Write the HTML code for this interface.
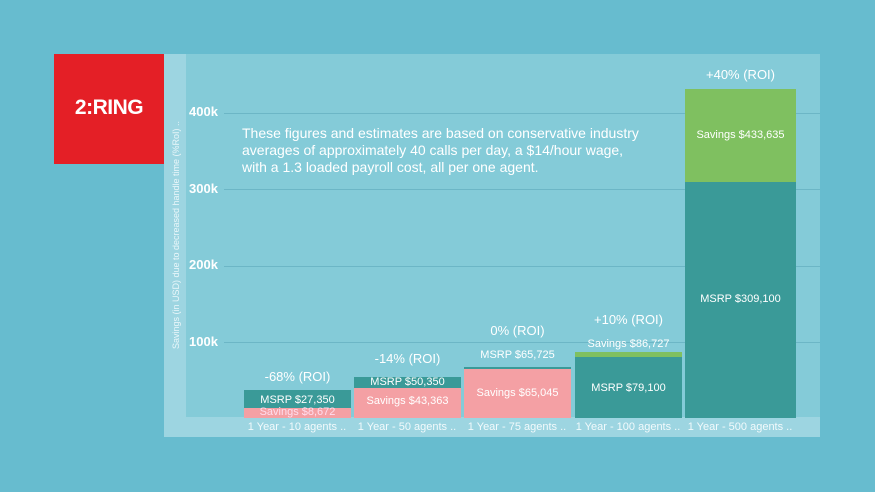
<!DOCTYPE html>
<html><head><style>
*{margin:0;padding:0;box-sizing:border-box}
body{width:875px;height:492px;background:#67bccf;position:relative;overflow:hidden;font-family:"Liberation Sans",sans-serif}
.a{position:absolute}
.g{position:absolute;left:224px;width:596px;height:1px;background:#6cb6c6}
.yl{position:absolute;left:189px;font-size:13px;color:#fff;font-weight:bold}
.t{position:absolute;color:#fff;text-align:center;white-space:nowrap}
.teal{background:#3a9a98}.pink{background:#f4a0a4}.green{background:#7fc060}
.xl{position:absolute;top:421px;font-size:11px;color:#f2fafc;text-align:center;width:110px}
</style></head><body>
<div class="a" style="left:54px;top:54px;width:110px;height:110px;background:#e41f26"></div>
<div class="t" style="left:54px;top:96px;width:110px;font-size:21px;font-weight:bold;letter-spacing:-0.5px">2:RING</div>
<div class="a" style="left:164px;top:54px;width:656px;height:383px;background:#84cbd8"></div>
<div class="a" style="left:164px;top:54px;width:22px;height:383px;background:#9dd5e1"></div>
<div class="a" style="left:186px;top:417px;width:634px;height:20px;background:#9dd5e1"></div>
<div class="t" style="left:176px;top:235px;font-size:9px;color:#eaf7fa;transform:translate(-50%,-50%) rotate(-90deg)">Savings (in USD) due to decreased handle time (%RoI) ..</div>
<div class="g" style="top:113px"></div><div class="g" style="top:189px"></div><div class="g" style="top:266px"></div><div class="g" style="top:342px"></div>
<div class="yl" style="top:104px">400k</div><div class="yl" style="top:181px">300k</div><div class="yl" style="top:257px">200k</div><div class="yl" style="top:334px">100k</div>
<div class="a" style="left:242px;top:125px;font-size:14px;line-height:17px;color:#fff">These figures and estimates are based on conservative industry<br>averages of approximately 40 calls per day, a $14/hour wage,<br>with a 1.3 loaded payroll cost, all per one agent.</div>

<div class="a teal" style="left:244px;top:390px;width:107px;height:18px"></div>
<div class="a pink" style="left:244px;top:408px;width:107px;height:10px"></div>
<div class="t" style="left:244px;width:107px;top:394px;font-size:11px">MSRP $27,350</div>
<div class="t" style="left:244px;width:107px;top:406px;font-size:11px;color:#fde">Savings $8,672</div>
<div class="t" style="left:244px;width:107px;top:369px;font-size:13px">-68% (ROI)</div>

<div class="a teal" style="left:354px;top:377px;width:107px;height:11px"></div>
<div class="a pink" style="left:354px;top:388px;width:107px;height:30px"></div>
<div class="t" style="left:354px;width:107px;top:376px;font-size:11px">MSRP $50,350</div>
<div class="t" style="left:354px;width:107px;top:395px;font-size:11px">Savings $43,363</div>
<div class="t" style="left:354px;width:107px;top:351px;font-size:13px">-14% (ROI)</div>

<div class="a teal" style="left:464px;top:367px;width:107px;height:2px"></div>
<div class="a pink" style="left:464px;top:369px;width:107px;height:49px"></div>
<div class="t" style="left:464px;width:107px;top:387px;font-size:11px">Savings $65,045</div>
<div class="t" style="left:464px;width:107px;top:349px;font-size:11px">MSRP $65,725</div>
<div class="t" style="left:464px;width:107px;top:323px;font-size:13px">0% (ROI)</div>

<div class="a green" style="left:575px;top:352px;width:107px;height:5px"></div>
<div class="a teal" style="left:575px;top:357px;width:107px;height:61px"></div>
<div class="t" style="left:575px;width:107px;top:382px;font-size:11px">MSRP $79,100</div>
<div class="t" style="left:575px;width:107px;top:338px;font-size:11px">Savings $86,727</div>
<div class="t" style="left:575px;width:107px;top:312px;font-size:13px">+10% (ROI)</div>

<div class="a green" style="left:685px;top:89px;width:111px;height:93px"></div>
<div class="a teal" style="left:685px;top:182px;width:111px;height:236px"></div>
<div class="t" style="left:685px;width:111px;top:129px;font-size:11px">Savings $433,635</div>
<div class="t" style="left:685px;width:111px;top:293px;font-size:11px">MSRP $309,100</div>
<div class="t" style="left:685px;width:111px;top:67px;font-size:13px">+40% (ROI)</div>

<div class="xl" style="left:242px">1 Year - 10 agents ..</div>
<div class="xl" style="left:352px">1 Year - 50 agents ..</div>
<div class="xl" style="left:462px">1 Year - 75 agents ..</div>
<div class="xl" style="left:573px">1 Year - 100 agents ..</div>
<div class="xl" style="left:685px">1 Year - 500 agents ..</div>
</body></html>
